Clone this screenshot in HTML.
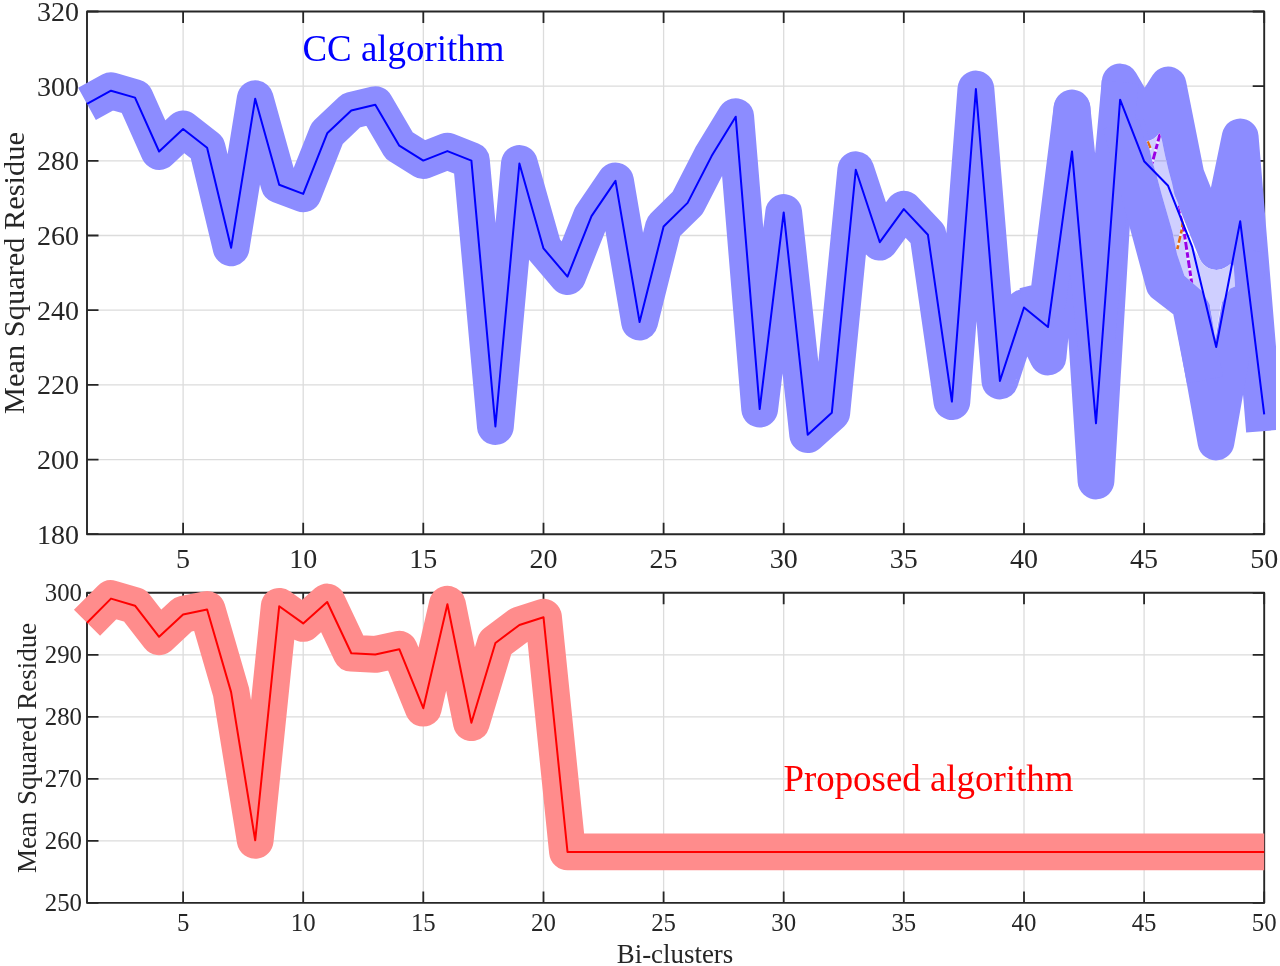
<!DOCTYPE html>
<html><head><meta charset="utf-8"><title>Mean Squared Residue</title>
<style>html,body{margin:0;padding:0;background:#fff;overflow:hidden}svg{display:block}
text{font-family:"Liberation Serif","Times New Roman",serif}</style></head><body>
<svg width="1280" height="966" viewBox="0 0 1280 966">
<defs><clipPath id="fig"><rect x="0" y="0" width="1276" height="966"/></clipPath></defs>
<rect width="1280" height="966" fill="#fff"/>
<path d="M183.1 11.5V534.2M303.2 11.5V534.2M423.3 11.5V534.2M543.5 11.5V534.2M663.6 11.5V534.2M783.7 11.5V534.2M903.8 11.5V534.2M1024.0 11.5V534.2M1144.1 11.5V534.2M87.0 86.2H1264.2M87.0 160.9H1264.2M87.0 235.5H1264.2M87.0 310.2H1264.2M87.0 384.9H1264.2M87.0 459.6H1264.2" stroke="#dcdcdc" stroke-width="1.3" fill="none"/>
<path d="M183.1 592.8V902.9M303.2 592.8V902.9M423.3 592.8V902.9M543.5 592.8V902.9M663.6 592.8V902.9M783.7 592.8V902.9M903.8 592.8V902.9M1024.0 592.8V902.9M1144.1 592.8V902.9M87.0 654.8H1264.2M87.0 716.8H1264.2M87.0 778.8H1264.2M87.0 840.9H1264.2" stroke="#dcdcdc" stroke-width="1.3" fill="none"/>
<path d="M183.1 534.2v-11.5M183.1 11.5v11.5M303.2 534.2v-11.5M303.2 11.5v11.5M423.3 534.2v-11.5M423.3 11.5v11.5M543.5 534.2v-11.5M543.5 11.5v11.5M663.6 534.2v-11.5M663.6 11.5v11.5M783.7 534.2v-11.5M783.7 11.5v11.5M903.8 534.2v-11.5M903.8 11.5v11.5M1024.0 534.2v-11.5M1024.0 11.5v11.5M1144.1 534.2v-11.5M1144.1 11.5v11.5M1264.2 534.2v-11.5M1264.2 11.5v11.5M87.0 11.5h11.5M1264.2 11.5h-11.5M87.0 86.2h11.5M1264.2 86.2h-11.5M87.0 160.9h11.5M1264.2 160.9h-11.5M87.0 235.5h11.5M1264.2 235.5h-11.5M87.0 310.2h11.5M1264.2 310.2h-11.5M87.0 384.9h11.5M1264.2 384.9h-11.5M87.0 459.6h11.5M1264.2 459.6h-11.5M87.0 534.2h11.5M1264.2 534.2h-11.5" stroke="#262626" stroke-width="1.8" fill="none"/>
<rect x="87.0" y="11.5" width="1177.2" height="522.8" stroke="#262626" stroke-width="1.9" stroke-linejoin="round" fill="none"/>
<text x="183.1" y="568.3" font-size="28" text-anchor="middle" fill="#262626">5</text>
<text x="303.2" y="568.3" font-size="28" text-anchor="middle" fill="#262626">10</text>
<text x="423.3" y="568.3" font-size="28" text-anchor="middle" fill="#262626">15</text>
<text x="543.5" y="568.3" font-size="28" text-anchor="middle" fill="#262626">20</text>
<text x="663.6" y="568.3" font-size="28" text-anchor="middle" fill="#262626">25</text>
<text x="783.7" y="568.3" font-size="28" text-anchor="middle" fill="#262626">30</text>
<text x="903.8" y="568.3" font-size="28" text-anchor="middle" fill="#262626">35</text>
<text x="1024.0" y="568.3" font-size="28" text-anchor="middle" fill="#262626">40</text>
<text x="1144.1" y="568.3" font-size="28" text-anchor="middle" fill="#262626">45</text>
<text x="1264.2" y="568.3" font-size="28" text-anchor="middle" fill="#262626">50</text>
<text x="78.9" y="20.9" font-size="28" text-anchor="end" fill="#262626">320</text>
<text x="78.9" y="95.5" font-size="28" text-anchor="end" fill="#262626">300</text>
<text x="78.9" y="170.2" font-size="28" text-anchor="end" fill="#262626">280</text>
<text x="78.9" y="244.9" font-size="28" text-anchor="end" fill="#262626">260</text>
<text x="78.9" y="319.6" font-size="28" text-anchor="end" fill="#262626">240</text>
<text x="78.9" y="394.3" font-size="28" text-anchor="end" fill="#262626">220</text>
<text x="78.9" y="468.9" font-size="28" text-anchor="end" fill="#262626">200</text>
<text x="78.9" y="543.6" font-size="28" text-anchor="end" fill="#262626">180</text>
<path d="M183.1 902.9v-11.5M183.1 592.8v11.5M303.2 902.9v-11.5M303.2 592.8v11.5M423.3 902.9v-11.5M423.3 592.8v11.5M543.5 902.9v-11.5M543.5 592.8v11.5M663.6 902.9v-11.5M663.6 592.8v11.5M783.7 902.9v-11.5M783.7 592.8v11.5M903.8 902.9v-11.5M903.8 592.8v11.5M1024.0 902.9v-11.5M1024.0 592.8v11.5M1144.1 902.9v-11.5M1144.1 592.8v11.5M1264.2 902.9v-11.5M1264.2 592.8v11.5M87.0 592.8h11.5M1264.2 592.8h-11.5M87.0 654.8h11.5M1264.2 654.8h-11.5M87.0 716.8h11.5M1264.2 716.8h-11.5M87.0 778.8h11.5M1264.2 778.8h-11.5M87.0 840.9h11.5M1264.2 840.9h-11.5M87.0 902.9h11.5M1264.2 902.9h-11.5" stroke="#262626" stroke-width="1.8" fill="none"/>
<rect x="87.0" y="592.8" width="1177.2" height="310.1" stroke="#262626" stroke-width="1.9" stroke-linejoin="round" fill="none"/>
<text x="183.1" y="930.6" font-size="24.8" text-anchor="middle" fill="#262626">5</text>
<text x="303.2" y="930.6" font-size="24.8" text-anchor="middle" fill="#262626">10</text>
<text x="423.3" y="930.6" font-size="24.8" text-anchor="middle" fill="#262626">15</text>
<text x="543.5" y="930.6" font-size="24.8" text-anchor="middle" fill="#262626">20</text>
<text x="663.6" y="930.6" font-size="24.8" text-anchor="middle" fill="#262626">25</text>
<text x="783.7" y="930.6" font-size="24.8" text-anchor="middle" fill="#262626">30</text>
<text x="903.8" y="930.6" font-size="24.8" text-anchor="middle" fill="#262626">35</text>
<text x="1024.0" y="930.6" font-size="24.8" text-anchor="middle" fill="#262626">40</text>
<text x="1144.1" y="930.6" font-size="24.8" text-anchor="middle" fill="#262626">45</text>
<text x="1264.2" y="930.6" font-size="24.8" text-anchor="middle" fill="#262626">50</text>
<text x="82.0" y="601.1" font-size="24.8" text-anchor="end" fill="#262626">300</text>
<text x="82.0" y="663.1" font-size="24.8" text-anchor="end" fill="#262626">290</text>
<text x="82.0" y="725.1" font-size="24.8" text-anchor="end" fill="#262626">280</text>
<text x="82.0" y="787.2" font-size="24.8" text-anchor="end" fill="#262626">270</text>
<text x="82.0" y="849.2" font-size="24.8" text-anchor="end" fill="#262626">260</text>
<text x="82.0" y="911.2" font-size="24.8" text-anchor="end" fill="#262626">250</text>
<text x="302.5" y="61" font-size="36.9" fill="#0000ff">CC algorithm</text>
<text x="783.4" y="791.2" font-size="36.9" fill="#ff0000">Proposed algorithm</text>
<g clip-path="url(#fig)" fill="none" stroke-linejoin="round" stroke-linecap="butt">
<polyline points="87.0,103.9 111.0,90.7 135.0,97.6 159.1,151.5 183.1,129.0 207.1,147.7 231.1,247.8 255.2,98.7 279.2,184.8 303.2,193.9 327.2,133.3 351.3,110.5 375.3,104.7 399.3,145.7 423.3,160.6 447.4,151.1 471.4,160.6 495.4,426.5 519.4,163.5 543.5,248.4 567.5,276.6 591.5,216.1 615.5,180.9 639.6,322.1 663.6,226.5 687.6,202.9 711.6,156.1 735.7,116.7 759.7,409.1 783.7,212.4 807.7,434.7 831.8,412.8 855.8,169.7 879.8,242.2 903.8,209.1 927.9,234.7 951.9,401.6 975.9,89.0 999.9,381.0 1024.0,307.5 1048.0,357.0 1072.0,109.0 1096.0,481.0 1120.1,82.0 1144.1,123.0 1168.1,85.0 1186.0,175.0 1216.5,251.5 1240.2,137.0 1264.5,431.0" stroke="#8c8cff" stroke-width="36.8"/>
<polyline points="1024.0,306.0 1048.0,300.0 1072.0,108.0 1096.0,345.0 1120.1,82.0" stroke="#8c8cff" stroke-width="36.8"/>
<polyline points="1126.0,124.0 1170.0,280.0 1190.0,298.0 1216.0,442.0 1240.0,306.0 1250.0,250.0" stroke="#8c8cff" stroke-width="36.8"/>
<polyline points="1121.0,124.0 1164.0,284.0 1190.0,304.0 1205.0,380.0" stroke="#8c8cff" stroke-width="36.8"/>
<polyline points="87.0,622.8 111.0,598.6 135.0,605.7 159.1,636.8 183.1,614.4 207.1,609.5 231.1,692.1 255.2,840.3 279.2,606.3 303.2,623.4 327.2,602.0 351.3,653.2 375.3,654.4 399.3,649.2 423.3,708.2 447.4,604.2 471.4,722.7 495.4,643.0 519.4,625.0 543.5,617.2 567.5,851.9 591.5,851.9 615.5,851.9 639.6,851.9 663.6,851.9 687.6,851.9 711.6,851.9 735.7,851.9 759.7,851.9 783.7,851.9 807.7,851.9 831.8,851.9 855.8,851.9 879.8,851.9 903.8,851.9 927.9,851.9 951.9,851.9 975.9,851.9 999.9,851.9 1024.0,851.9 1048.0,851.9 1072.0,851.9 1096.0,851.9 1120.1,851.9 1144.1,851.9 1168.1,851.9 1192.1,851.9 1216.2,851.9 1240.2,851.9 1264.2,851.9" stroke="#ff8c8c" stroke-width="36.8"/>
</g>
<defs><clipPath id="lr"><polygon points="1147.2,141.1 1150.3,140.3 1153.2,138.9 1155.8,137.1 1158.1,134.8 1159.6,132.8 1161.8,139.5 1164.0,150.4 1166.2,160.5 1169.0,172.1 1172.0,183.0 1174.5,195.0 1178.0,203.0 1184.7,226.0 1192.4,246.7 1199.2,257.8 1201.4,262.1 1204.7,265.6 1208.7,268.2 1213.3,269.6 1216.5,269.9 1219.7,269.6 1224.3,268.2 1228.3,265.6 1230.0,264.0 1233.7,265.6 1235.1,286.6 1230.0,288.8 1220.9,304.5 1215.3,339.3 1209.8,304.5 1201.0,290.2 1184.4,275.7 1177.0,254.0 1172.5,232.0 1161.8,195.0 1156.7,175.7 1153.1,164.1 1151.7,159.0 1149.5,148.9 1146.5,141.0"/></clipPath></defs>
<polygon points="1147.2,141.1 1150.3,140.3 1153.2,138.9 1155.8,137.1 1158.1,134.8 1159.6,132.8 1161.8,139.5 1164.0,150.4 1166.2,160.5 1169.0,172.1 1172.0,183.0 1174.5,195.0 1178.0,203.0 1184.7,226.0 1192.4,246.7 1199.2,257.8 1201.4,262.1 1204.7,265.6 1208.7,268.2 1213.3,269.6 1216.5,269.9 1219.7,269.6 1224.3,268.2 1228.3,265.6 1230.0,264.0 1233.7,265.6 1235.1,286.6 1230.0,288.8 1220.9,304.5 1215.3,339.3 1209.8,304.5 1201.0,290.2 1184.4,275.7 1177.0,254.0 1172.5,232.0 1161.8,195.0 1156.7,175.7 1153.1,164.1 1151.7,159.0 1149.5,148.9 1146.5,141.0" fill="#fff"/>
<path d="M1100 86.2H1264M1100 160.9H1264M1100 235.5H1264M1100 310.2H1264M1100 384.9H1264M1100 459.6H1264M1144.1 0V534" stroke="#dcdcdc" stroke-width="1.3" clip-path="url(#lr)"/>
<polygon points="1147.2,141.1 1150.3,140.3 1153.2,138.9 1155.8,137.1 1158.1,134.8 1159.6,132.8 1161.8,139.5 1164.0,150.4 1166.2,160.5 1169.0,172.1 1172.0,183.0 1174.5,195.0 1178.0,203.0 1184.7,226.0 1192.4,246.7 1199.2,257.8 1201.4,262.1 1204.7,265.6 1208.7,268.2 1213.3,269.6 1216.5,269.9 1219.7,269.6 1224.3,268.2 1228.3,265.6 1230.0,264.0 1233.7,265.6 1235.1,286.6 1230.0,288.8 1220.9,304.5 1215.3,339.3 1209.8,304.5 1201.0,290.2 1184.4,275.7 1177.0,254.0 1172.5,232.0 1161.8,195.0 1156.7,175.7 1153.1,164.1 1151.7,159.0 1149.5,148.9 1146.5,141.0" fill="#0000ff" fill-opacity="0.19"/>
<g clip-path="url(#lr)" fill="none">
<path d="M1160.1 133.7L1152.1 163.3M1179.4 205.4L1183.7 229.3L1191.7 283" stroke="#eef0ff" stroke-width="3"/>
<path d="M1147.6 141.6L1151 149.6M1182.9 220.2L1182.2 227.9L1177.2 249.6" stroke="#eef0ff" stroke-width="2.6"/>
<path d="M1160.1 133.7L1152.1 163.3M1179.4 205.4L1183.7 229.3L1191.7 283" stroke="#9a00e6" stroke-width="3" stroke-dasharray="8 2.5 5.5 2.5"/>
<path d="M1147.6 141.6L1151 149.6M1182.9 220.2L1182.2 227.9L1177.2 249.6" stroke="#e06a10" stroke-width="2.6" stroke-dasharray="7 2.5 4 2.5"/>
</g>
<polyline points="87.0,103.9 111.0,90.7 135.0,97.6 159.1,151.5 183.1,129.0 207.1,147.7 231.1,247.8 255.2,98.7 279.2,184.8 303.2,193.9 327.2,133.3 351.3,110.5 375.3,104.7 399.3,145.7 423.3,160.6 447.4,151.1 471.4,160.6 495.4,426.5 519.4,163.5 543.5,248.4 567.5,276.6 591.5,216.1 615.5,180.9 639.6,322.1 663.6,226.5 687.6,202.9 711.6,156.1 735.7,116.7 759.7,409.1 783.7,212.4 807.7,434.7 831.8,412.8 855.8,169.7 879.8,242.2 903.8,209.1 927.9,234.7 951.9,401.6 975.9,89.0 999.9,381.0 1024.0,307.5 1048.0,327.0 1072.0,151.4 1096.0,423.3 1120.1,99.7 1144.1,161.2 1168.1,185.8 1192.1,246.6 1216.2,347.0 1240.2,221.2 1264.2,414.3" fill="none" stroke="#0000ff" stroke-width="2" stroke-linejoin="round"/>
<polyline points="87.0,622.8 111.0,598.6 135.0,605.7 159.1,636.8 183.1,614.4 207.1,609.5 231.1,692.1 255.2,840.3 279.2,606.3 303.2,623.4 327.2,602.0 351.3,653.2 375.3,654.4 399.3,649.2 423.3,708.2 447.4,604.2 471.4,722.7 495.4,643.0 519.4,625.0 543.5,617.2 567.5,851.9 591.5,851.9 615.5,851.9 639.6,851.9 663.6,851.9 687.6,851.9 711.6,851.9 735.7,851.9 759.7,851.9 783.7,851.9 807.7,851.9 831.8,851.9 855.8,851.9 879.8,851.9 903.8,851.9 927.9,851.9 951.9,851.9 975.9,851.9 999.9,851.9 1024.0,851.9 1048.0,851.9 1072.0,851.9 1096.0,851.9 1120.1,851.9 1144.1,851.9 1168.1,851.9 1192.1,851.9 1216.2,851.9 1240.2,851.9 1264.2,851.9" fill="none" stroke="#ff0000" stroke-width="2" stroke-linejoin="round"/>
<text transform="translate(23.9 273) rotate(-90)" font-size="30.4" text-anchor="middle" fill="#262626">Mean Squared Residue</text>
<text transform="translate(35.7 747.9) rotate(-90)" font-size="27.0" text-anchor="middle" fill="#262626">Mean Squared Residue</text>
<text x="675" y="962.5" font-size="26.9" text-anchor="middle" fill="#262626">Bi-clusters</text>
</svg></body></html>
